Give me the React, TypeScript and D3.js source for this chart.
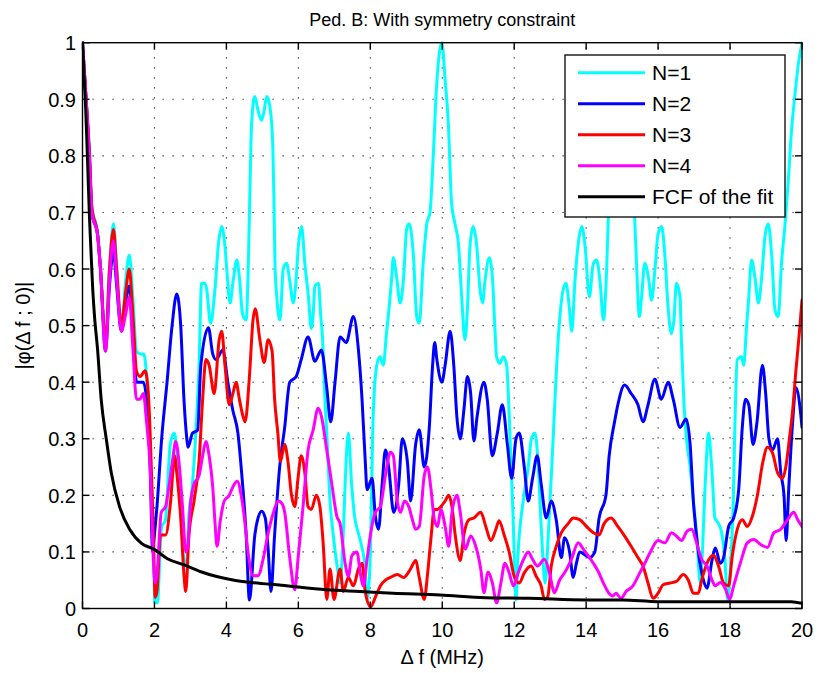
import React, { useEffect, useRef } from 'react';
import * as d3 from 'd3';

type Pt = [number, number];

// values: [Δf (MHz), |φ|]
const n1: Pt[] = [[0,1.0],[0.1,0.9],[0.19,0.81],[0.26,0.71],[0.42,0.665],[0.5,0.6],[0.64,0.47],[0.75,0.6],[0.86,0.68],[0.95,0.6],[1.08,0.5],[1.2,0.58],[1.3,0.625],[1.4,0.55],[1.5,0.455],[1.62,0.45],[1.7,0.45],[1.78,0.41],[1.87,0.28],[1.97,0.13],[2.01,0.01],[2.08,0.01],[2.2,0.145],[2.3,0.155],[2.44,0.29],[2.55,0.31],[2.62,0.28],[2.72,0.19],[2.82,0.085],[2.89,0.075],[2.95,0.16],[3.05,0.215],[3.14,0.3],[3.24,0.43],[3.31,0.575],[3.4,0.575],[3.45,0.565],[3.56,0.504],[3.68,0.563],[3.78,0.645],[3.87,0.675],[3.96,0.64],[4.01,0.6],[4.1,0.54],[4.19,0.58],[4.29,0.616],[4.36,0.586],[4.45,0.52],[4.55,0.51],[4.61,0.61],[4.66,0.757],[4.7,0.857],[4.79,0.905],[4.88,0.88],[4.98,0.863],[5.05,0.88],[5.12,0.905],[5.21,0.887],[5.29,0.816],[5.32,0.728],[5.35,0.61],[5.4,0.551],[5.49,0.51],[5.58,0.6],[5.67,0.61],[5.77,0.575],[5.86,0.54],[5.93,0.575],[6.0,0.64],[6.09,0.675],[6.18,0.61],[6.28,0.551],[6.36,0.495],[6.42,0.527],[6.46,0.57],[6.56,0.575],[6.62,0.52],[6.67,0.48],[6.74,0.369],[6.79,0.31],[6.88,0.19],[6.97,0.13],[7.08,0.074],[7.16,0.045],[7.25,0.133],[7.32,0.25],[7.39,0.31],[7.48,0.22],[7.57,0.16],[7.67,0.133],[7.76,0.11],[7.85,0.074],[7.9,0.015],[7.99,0.074],[8.08,0.34],[8.18,0.43],[8.27,0.445],[8.36,0.43],[8.45,0.486],[8.52,0.53],[8.59,0.58],[8.64,0.62],[8.73,0.586],[8.83,0.54],[8.92,0.58],[9.01,0.67],[9.08,0.68],[9.2,0.622],[9.29,0.516],[9.36,0.504],[9.47,0.61],[9.57,0.68],[9.66,0.7],[9.75,0.8],[9.84,0.92],[9.94,0.99],[9.99,1.0],[10.08,0.934],[10.17,0.857],[10.26,0.716],[10.35,0.681],[10.45,0.645],[10.54,0.551],[10.63,0.475],[10.7,0.53],[10.77,0.64],[10.86,0.675],[10.96,0.64],[11.05,0.563],[11.12,0.54],[11.19,0.58],[11.31,0.62],[11.4,0.58],[11.46,0.5],[11.51,0.445],[11.6,0.433],[11.7,0.445],[11.79,0.43],[11.88,0.31],[11.97,0.16],[12.05,0.015],[12.11,0.1],[12.25,0.19],[12.39,0.25],[12.48,0.3],[12.58,0.31],[12.67,0.25],[12.76,0.133],[12.86,0.045],[12.95,0.133],[13.09,0.31],[13.18,0.43],[13.27,0.516],[13.36,0.563],[13.44,0.575],[13.53,0.533],[13.6,0.49],[13.69,0.58],[13.78,0.645],[13.88,0.675],[13.97,0.64],[14.09,0.551],[14.2,0.61],[14.29,0.616],[14.39,0.575],[14.48,0.51],[14.57,0.6],[14.63,0.72],[14.7,0.84],[14.8,0.9],[14.92,0.86],[15.03,0.87],[15.12,0.9],[15.22,0.84],[15.33,0.72],[15.4,0.61],[15.48,0.516],[15.54,0.55],[15.63,0.61],[15.73,0.586],[15.82,0.545],[15.91,0.598],[16.0,0.662],[16.1,0.675],[16.19,0.622],[16.28,0.53],[16.37,0.486],[16.44,0.51],[16.51,0.575],[16.61,0.55],[16.65,0.47],[16.72,0.36],[16.79,0.3],[16.89,0.25],[16.98,0.19],[17.07,0.133],[17.17,0.045],[17.21,0.074],[17.31,0.22],[17.4,0.31],[17.49,0.25],[17.58,0.16],[17.68,0.15],[17.77,0.133],[17.86,0.085],[17.93,0.015],[18.01,0.074],[18.09,0.19],[18.13,0.31],[18.2,0.44],[18.32,0.445],[18.38,0.43],[18.46,0.5],[18.51,0.54],[18.6,0.616],[18.69,0.586],[18.79,0.54],[18.88,0.586],[18.97,0.657],[19.06,0.68],[19.16,0.622],[19.25,0.527],[19.34,0.516],[19.43,0.61],[19.53,0.68],[19.62,0.757],[19.71,0.846],[19.8,0.905],[19.9,0.963],[20.0,1.0]];

const n2: Pt[] = [[0,1.0],[0.1,0.9],[0.19,0.8],[0.26,0.7],[0.42,0.66],[0.5,0.6],[0.64,0.455],[0.75,0.57],[0.86,0.63],[0.95,0.57],[1.08,0.49],[1.2,0.54],[1.3,0.57],[1.4,0.5],[1.5,0.4],[1.6,0.4],[1.69,0.4],[1.78,0.37],[1.88,0.25],[1.95,0.1],[2.0,0.13],[2.07,0.18],[2.2,0.3],[2.35,0.4],[2.49,0.5],[2.62,0.556],[2.73,0.5],[2.82,0.37],[2.9,0.3],[2.93,0.285],[3.06,0.31],[3.2,0.315],[3.29,0.43],[3.5,0.496],[3.62,0.45],[3.71,0.44],[3.9,0.457],[4.04,0.4],[4.18,0.35],[4.32,0.31],[4.41,0.25],[4.55,0.13],[4.64,0.015],[4.79,0.13],[4.88,0.16],[4.98,0.172],[5.08,0.16],[5.16,0.105],[5.24,0.03],[5.34,0.13],[5.48,0.25],[5.62,0.32],[5.76,0.4],[5.94,0.41],[6.08,0.44],[6.27,0.48],[6.46,0.437],[6.64,0.457],[6.79,0.39],[6.9,0.33],[7.02,0.4],[7.16,0.48],[7.33,0.47],[7.53,0.516],[7.67,0.457],[7.77,0.37],[7.86,0.26],[7.91,0.21],[8.05,0.23],[8.14,0.163],[8.23,0.14],[8.33,0.22],[8.42,0.28],[8.51,0.25],[8.65,0.17],[8.79,0.22],[8.89,0.3],[9.03,0.26],[9.12,0.19],[9.26,0.29],[9.36,0.316],[9.5,0.25],[9.64,0.32],[9.73,0.428],[9.79,0.47],[9.85,0.44],[9.99,0.4],[10.08,0.43],[10.22,0.49],[10.32,0.43],[10.41,0.336],[10.5,0.3],[10.6,0.35],[10.7,0.41],[10.79,0.38],[10.88,0.296],[10.97,0.34],[11.16,0.4],[11.25,0.37],[11.39,0.27],[11.53,0.31],[11.67,0.36],[11.81,0.29],[11.93,0.23],[12.05,0.3],[12.14,0.31],[12.28,0.25],[12.39,0.19],[12.51,0.23],[12.64,0.27],[12.75,0.22],[12.89,0.16],[13.03,0.19],[13.17,0.156],[13.31,0.09],[13.4,0.125],[13.54,0.1],[13.64,0.055],[13.73,0.08],[13.82,0.1],[13.96,0.095],[14.1,0.09],[14.24,0.1],[14.36,0.16],[14.55,0.2],[14.64,0.27],[14.79,0.33],[14.88,0.36],[15.07,0.395],[15.25,0.38],[15.44,0.36],[15.58,0.33],[15.72,0.36],[15.91,0.405],[16.09,0.37],[16.28,0.4],[16.42,0.37],[16.61,0.32],[16.78,0.335],[16.89,0.29],[16.98,0.19],[17.12,0.1],[17.26,0.05],[17.36,0.036],[17.5,0.086],[17.59,0.107],[17.73,0.08],[17.82,0.09],[17.96,0.145],[18.1,0.16],[18.24,0.21],[18.34,0.32],[18.43,0.37],[18.52,0.36],[18.64,0.29],[18.75,0.33],[18.9,0.43],[18.99,0.38],[19.08,0.3],[19.18,0.28],[19.32,0.3],[19.41,0.24],[19.5,0.2],[19.56,0.12],[19.63,0.21],[19.74,0.33],[19.83,0.39],[19.97,0.34],[20.0,0.32]];

const n3: Pt[] = [[0,1.0],[0.1,0.9],[0.19,0.81],[0.26,0.71],[0.42,0.66],[0.5,0.6],[0.64,0.47],[0.75,0.6],[0.86,0.67],[0.95,0.6],[1.08,0.5],[1.2,0.56],[1.3,0.6],[1.4,0.52],[1.5,0.42],[1.6,0.41],[1.74,0.42],[1.83,0.38],[1.97,0.13],[2.02,0.02],[2.07,0.03],[2.17,0.13],[2.31,0.13],[2.45,0.19],[2.56,0.27],[2.62,0.24],[2.73,0.16],[2.82,0.06],[2.87,0.03],[2.96,0.13],[3.1,0.19],[3.24,0.26],[3.34,0.37],[3.43,0.44],[3.52,0.43],[3.66,0.38],[3.8,0.475],[3.87,0.49],[3.96,0.43],[4.08,0.36],[4.18,0.38],[4.27,0.4],[4.36,0.37],[4.46,0.34],[4.52,0.33],[4.64,0.41],[4.74,0.51],[4.8,0.53],[4.93,0.475],[5.05,0.435],[5.16,0.475],[5.27,0.455],[5.34,0.37],[5.43,0.31],[5.5,0.26],[5.62,0.29],[5.71,0.26],[5.81,0.2],[5.9,0.18],[5.99,0.23],[6.08,0.27],[6.18,0.24],[6.27,0.18],[6.36,0.175],[6.5,0.2],[6.6,0.18],[6.69,0.115],[6.79,0.016],[6.88,0.07],[6.99,0.016],[7.16,0.07],[7.25,0.03],[7.39,0.055],[7.53,0.04],[7.67,0.07],[7.77,0.08],[7.86,0.03],[8.01,0.003],[8.14,0.02],[8.28,0.04],[8.42,0.05],[8.56,0.055],[8.75,0.06],[8.93,0.055],[9.12,0.07],[9.26,0.085],[9.36,0.055],[9.5,0.016],[9.59,0.06],[9.68,0.12],[9.78,0.175],[9.87,0.175],[9.96,0.18],[10.08,0.19],[10.18,0.2],[10.27,0.18],[10.36,0.13],[10.5,0.085],[10.6,0.13],[10.74,0.157],[10.88,0.16],[11.07,0.17],[11.21,0.145],[11.35,0.12],[11.49,0.14],[11.58,0.155],[11.72,0.13],[11.86,0.1],[12.0,0.057],[12.14,0.045],[12.28,0.063],[12.47,0.075],[12.61,0.057],[12.75,0.04],[12.84,0.016],[12.93,0.02],[13.03,0.075],[13.17,0.11],[13.31,0.134],[13.5,0.15],[13.64,0.16],[13.82,0.157],[14.01,0.145],[14.2,0.134],[14.36,0.13],[14.5,0.15],[14.69,0.16],[14.88,0.145],[15.07,0.128],[15.25,0.11],[15.44,0.09],[15.58,0.075],[15.72,0.045],[15.86,0.018],[16.0,0.027],[16.14,0.042],[16.33,0.045],[16.51,0.048],[16.7,0.06],[16.84,0.05],[16.98,0.027],[17.12,0.027],[17.21,0.05],[17.36,0.08],[17.54,0.094],[17.68,0.075],[17.82,0.045],[17.96,0.04],[18.06,0.092],[18.2,0.14],[18.34,0.157],[18.48,0.145],[18.62,0.163],[18.76,0.2],[18.9,0.255],[19.04,0.285],[19.18,0.275],[19.32,0.24],[19.46,0.23],[19.55,0.25],[19.65,0.3],[19.74,0.35],[19.83,0.42],[19.93,0.49],[20.0,0.545]];

const n4: Pt[] = [[0,1.0],[0.1,0.9],[0.19,0.8],[0.26,0.7],[0.42,0.66],[0.5,0.6],[0.64,0.455],[0.75,0.58],[0.86,0.65],[0.95,0.58],[1.08,0.49],[1.2,0.52],[1.3,0.55],[1.4,0.46],[1.5,0.37],[1.6,0.37],[1.69,0.38],[1.78,0.33],[1.88,0.25],[1.97,0.085],[2.02,0.045],[2.07,0.06],[2.19,0.17],[2.31,0.18],[2.4,0.215],[2.5,0.26],[2.59,0.295],[2.68,0.26],[2.78,0.18],[2.87,0.1],[2.92,0.107],[3.01,0.19],[3.1,0.22],[3.24,0.235],[3.34,0.27],[3.43,0.295],[3.52,0.27],[3.62,0.215],[3.68,0.155],[3.74,0.11],[3.83,0.155],[3.94,0.19],[4.08,0.2],[4.18,0.215],[4.3,0.225],[4.41,0.2],[4.5,0.16],[4.6,0.1],[4.74,0.058],[4.88,0.058],[5.02,0.087],[5.16,0.133],[5.3,0.168],[5.44,0.19],[5.55,0.185],[5.62,0.17],[5.76,0.09],[5.9,0.033],[5.99,0.087],[6.13,0.18],[6.27,0.28],[6.41,0.315],[6.55,0.354],[6.64,0.34],[6.79,0.28],[6.93,0.22],[7.07,0.163],[7.16,0.15],[7.3,0.08],[7.39,0.057],[7.49,0.094],[7.63,0.1],[7.72,0.063],[7.81,0.04],[7.91,0.087],[8.01,0.133],[8.14,0.17],[8.28,0.18],[8.42,0.235],[8.56,0.276],[8.64,0.27],[8.75,0.19],[8.84,0.17],[8.95,0.19],[9.07,0.18],[9.17,0.157],[9.26,0.14],[9.36,0.145],[9.5,0.235],[9.59,0.25],[9.68,0.215],[9.78,0.157],[9.87,0.145],[9.96,0.175],[10.08,0.145],[10.18,0.11],[10.27,0.17],[10.41,0.2],[10.5,0.17],[10.64,0.105],[10.79,0.128],[10.93,0.11],[11.07,0.07],[11.16,0.028],[11.27,0.064],[11.39,0.046],[11.51,0.01],[11.63,0.045],[11.74,0.08],[11.86,0.063],[11.98,0.04],[12.11,0.063],[12.26,0.087],[12.39,0.1],[12.51,0.087],[12.65,0.075],[12.84,0.087],[12.98,0.063],[13.12,0.028],[13.26,0.05],[13.4,0.063],[13.59,0.087],[13.78,0.116],[13.92,0.105],[14.06,0.093],[14.2,0.08],[14.34,0.065],[14.48,0.045],[14.62,0.028],[14.74,0.022],[14.83,0.027],[14.97,0.018],[15.11,0.03],[15.3,0.04],[15.49,0.063],[15.63,0.08],[15.77,0.098],[16.0,0.12],[16.19,0.116],[16.37,0.134],[16.51,0.128],[16.65,0.12],[16.81,0.137],[16.93,0.14],[17.07,0.116],[17.21,0.087],[17.36,0.075],[17.5,0.05],[17.59,0.04],[17.73,0.046],[17.87,0.035],[17.99,0.016],[18.1,0.04],[18.29,0.081],[18.48,0.116],[18.66,0.122],[18.85,0.113],[19.04,0.108],[19.22,0.134],[19.41,0.14],[19.6,0.157],[19.77,0.17],[19.88,0.157],[20.0,0.145]];

const fcf: Pt[] = [[0,1.0],[0.05,0.934],[0.09,0.881],[0.14,0.793],[0.19,0.698],[0.23,0.64],[0.28,0.57],[0.33,0.52],[0.42,0.457],[0.52,0.369],[0.66,0.3],[0.8,0.24],[1.03,0.18],[1.31,0.14],[1.64,0.115],[1.98,0.105],[2.36,0.088],[2.83,0.077],[3.29,0.065],[3.76,0.056],[4.22,0.05],[4.69,0.046],[5.53,0.041],[6.79,0.033],[7.71,0.03],[8.63,0.027],[9.94,0.024],[11.2,0.019],[12.4,0.018],[14,0.015],[15,0.015],[16,0.012],[18.1,0.012],[19.7,0.012],[20,0.009]];

const seriesNames = ['N=1', 'N=2', 'N=3', 'N=4', 'FCF of the fit'];
const seriesColors = ['#00ffff', '#0000ff', '#ff0000', '#ff00ff', '#000000'];
const seriesData = [n1, n2, n3, n4, fcf];

const xTicks = [0, 2, 4, 6, 8, 10, 12, 14, 16, 18, 20];
const yTicks = [0, 0.1, 0.2, 0.3, 0.4, 0.5, 0.6, 0.7, 0.8, 0.9, 1];

const FONT = "'Liberation Sans', Arial, Helvetica, sans-serif";

export default function App() {
  const svgRef = useRef<SVGSVGElement>(null);

  useEffect(() => {
    if (!svgRef.current) return;
    const svg = d3.select(svgRef.current);
    svg.selectAll('*').remove();

    const left = 82.5, right = 802, top = 42.7, bottom = 608.5;

    const x = d3.scaleLinear().domain([0, 20]).range([left, right]);
    const y = d3.scaleLinear().domain([0, 1]).range([bottom, top]);

    svg.append('rect')
      .attr('width', 819).attr('height', 673).attr('fill', '#fff');

    // dotted grid
    const grid = svg.append('g')
      .attr('stroke', '#222')
      .attr('stroke-width', 1.1)
      .attr('stroke-dasharray', '1.2,8.8');
    grid.selectAll('line.gx')
      .data(xTicks.slice(1, -1))
      .enter().append('line')
      .attr('x1', d => x(d)).attr('x2', d => x(d))
      .attr('y1', bottom).attr('y2', top);
    grid.selectAll('line.gy')
      .data(yTicks.slice(1, -1))
      .enter().append('line')
      .attr('x1', left).attr('x2', right)
      .attr('y1', d => y(d)).attr('y2', d => y(d));

    svg.append('defs').append('clipPath').attr('id', 'plotclip')
      .append('rect')
      .attr('x', left).attr('y', top - 2)
      .attr('width', right - left).attr('height', bottom - top + 4);

    const line = d3.line<Pt>()
      .x(d => x(d[0]))
      .y(d => y(d[1]))
      .curve(d3.curveMonotoneX);

    const lines = svg.append('g').attr('clip-path', 'url(#plotclip)');
    seriesData.forEach((s, i) => {
      lines.append('path')
        .attr('d', line(s))
        .attr('fill', 'none')
        .attr('stroke', seriesColors[i])
        .attr('stroke-width', 3)
        .attr('stroke-linejoin', 'round')
        .attr('stroke-linecap', 'round');
    });

    // box + ticks
    const axes = svg.append('g').attr('stroke', '#000').attr('stroke-width', 1.4);
    axes.append('rect')
      .attr('x', left).attr('y', top)
      .attr('width', right - left).attr('height', bottom - top)
      .attr('fill', 'none');
    const tl = 7;
    xTicks.forEach(t => {
      axes.append('line').attr('x1', x(t)).attr('x2', x(t)).attr('y1', bottom).attr('y2', bottom - tl);
      axes.append('line').attr('x1', x(t)).attr('x2', x(t)).attr('y1', top).attr('y2', top + tl);
    });
    yTicks.forEach(t => {
      axes.append('line').attr('x1', left).attr('x2', left + tl).attr('y1', y(t)).attr('y2', y(t));
      axes.append('line').attr('x1', right).attr('x2', right - tl).attr('y1', y(t)).attr('y2', y(t));
    });

    const labels = svg.append('g')
      .attr('font-family', FONT)
      .attr('font-size', 20)
      .attr('fill', '#000');
    labels.selectAll('text.xt')
      .data(xTicks)
      .enter().append('text')
      .attr('x', d => x(d))
      .attr('y', 637)
      .attr('text-anchor', 'middle')
      .text(d => String(d));
    labels.selectAll('text.yt')
      .data(yTicks)
      .enter().append('text')
      .attr('x', 76)
      .attr('y', d => y(d) + 7.5)
      .attr('text-anchor', 'end')
      .text(d => String(d));

    labels.append('text')
      .attr('x', (left + right) / 2)
      .attr('y', 664)
      .attr('text-anchor', 'middle')
      .text('\u0394 f (MHz)');

    labels.append('text')
      .attr('transform', `translate(30,${(top + bottom) / 2}) rotate(-90)`)
      .attr('text-anchor', 'middle')
      .text('|\u03c6(\u0394 f ; 0)|');

    labels.append('text')
      .attr('x', (left + right) / 2)
      .attr('y', 26)
      .attr('text-anchor', 'middle')
      .attr('font-size', 18)
      .text('Ped. B: With symmetry constraint');

    // legend
    const lg = svg.append('g');
    lg.append('rect')
      .attr('x', 565).attr('y', 55)
      .attr('width', 220).attr('height', 162)
      .attr('fill', '#fff').attr('stroke', '#000').attr('stroke-width', 1.3);
    seriesNames.forEach((name, i) => {
      const cy = 72.7 + i * 31;
      lg.append('line')
        .attr('x1', 578).attr('x2', 645)
        .attr('y1', cy).attr('y2', cy)
        .attr('stroke', seriesColors[i]).attr('stroke-width', 3);
      lg.append('text')
        .attr('x', 652).attr('y', cy + 7.5)
        .attr('font-family', FONT).attr('font-size', 21)
        .text(name);
    });
  }, []);

  return (
    <svg
      ref={svgRef}
      width={819}
      height={673}
      style={{ position: 'absolute', left: 0, top: 0 }}
    />
  );
}
